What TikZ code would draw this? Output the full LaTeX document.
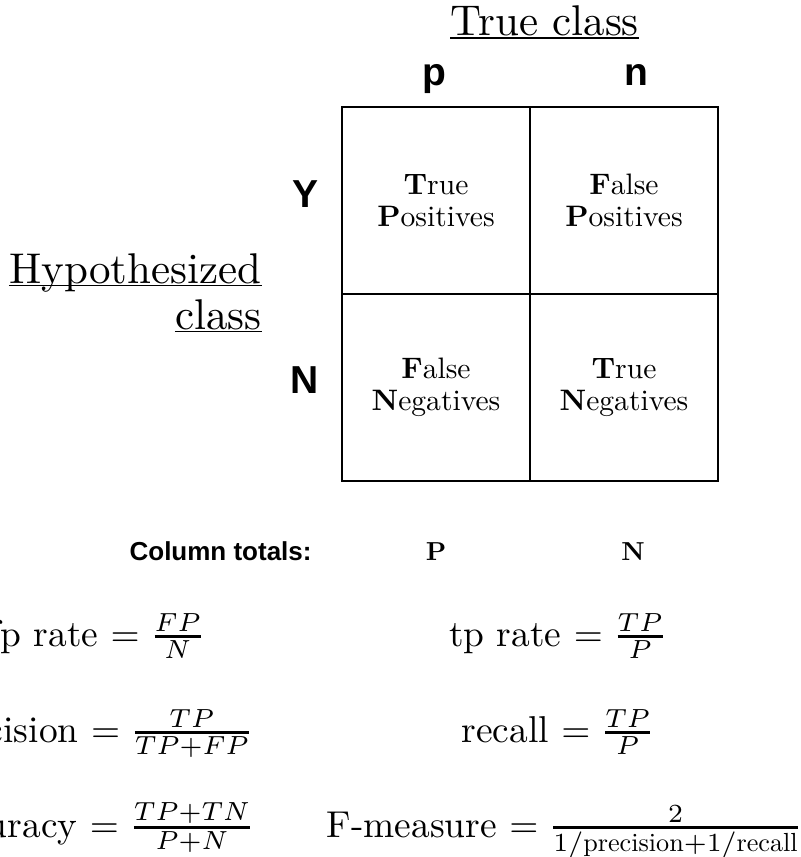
\RequirePackage{fix-cm}
\documentclass[tikz,border=0pt]{standalone}
\usepackage{fontspec}
\setmainfont{lmroman10-regular.otf}[BoldFont=lmroman10-bold.otf, ItalicFont=lmroman10-italic.otf]
\newfontfamily\hsans{Liberation Sans}
\usetikzlibrary{positioning}
\newcommand\ratio[2]{{#1\above0.7pt#2}}

\begin{document}
\begin{tikzpicture}[
  x=0.5pt, y=-0.5pt,
  cell/.style      = {draw=black, line width=1.35pt, minimum width=94pt, minimum height=93.5pt,
                      align=center, inner sep=0pt, font=\fontsize{14.8}{16}\selectfont},
  axislabel/.style = {inner sep=0pt, font=\hsans\bfseries\fontsize{19.5}{22}\selectfont},
  classhead/.style = {inner sep=0pt, font=\fontsize{21.5}{23}\selectfont},
  uline/.style     = {line width=0.6pt},
  totlabel/.style  = {inner sep=0pt, font=\hsans\bfseries\fontsize{13}{15}\selectfont},
  total/.style     = {inner sep=0pt, font=\bfseries\fontsize{13}{15}\selectfont},
  formula/.style   = {inner sep=0pt, font=\fontsize{10}{12}\selectfont, scale=1.87, transform shape},
]
\clip (0,0) rectangle (801,857);

% the 2x2 matrix
\node[cell] (tp) at (436,200.5) {\textbf{T}rue\\ \textbf{P}ositives};
\node[cell] (fp) at (624,200.5) {\textbf{F}alse\\ \textbf{P}ositives};
\node[cell] (fn) at (436,387.5) {\textbf{F}alse\\ \textbf{N}egatives};
\node[cell] (tn) at (624,387.5) {\textbf{T}rue\\ \textbf{N}egatives};

% row and column labels
\node[axislabel, left=11pt of tp, yshift=3pt] (Y) {Y};
\node[axislabel, left=11pt of fn, yshift=3.5pt] (N) {N};
\node[axislabel, above=10pt of tp.north, anchor=base, xshift=-0.7pt] (p) {p};
\node[axislabel, above=10pt of fp.north, anchor=base, xshift=6pt] (n) {n};

\node[classhead, above=35pt of tp.north east, anchor=base, xshift=6.75pt] (truecls) {True class};
\draw[uline] ([yshift=-1.2pt]truecls.base west) -- ([yshift=-1.2pt]truecls.base east);

\node[classhead, anchor=base east] (hyp) at (262,283) {Hypothesized};
\node[classhead, anchor=base east] (hypcls) at ([yshift=-23pt]hyp.base east) {class};
\draw[uline] ([yshift=-1.3pt]hyp.base west) -- ([yshift=-1.3pt]hyp.base east);
\draw[uline] ([yshift=-1.3pt]hypcls.base west) -- ([yshift=-1.3pt]hypcls.base east);

% totals
\node[totlabel, anchor=base east] (coltot) at (312,560) {Column totals:};
\node[total, anchor=base] (totP) at (tp |- coltot.base) {P};
\node[total, anchor=base, xshift=4.5pt] (totN) at (tn |- coltot.base) {N};

% measures
\node[formula, anchor=base east] (fprate) at (206,646) {fp rate $=\ratio{FP}{N}$};
\node[formula, anchor=base] (tprate) at (558,646) {tp rate $=\ratio{TP}{P}$};
\node[formula, anchor=base east] (prec) at (254,742) {precision $=\ratio{TP}{TP+FP}$};
\node[formula, anchor=base] (rec) at (558,742) {recall $=\ratio{TP}{P}$};
\node[formula, anchor=base east] (acc) at (255,837) {accuracy $=\ratio{TP+TN}{P+N}$};
\node[formula, anchor=base east] (fmeas) at (803,837)
  {F-measure $=\ratio{2}{1/\mathrm{precision}+1/\mathrm{recall}}$};

\end{tikzpicture}
\end{document}
